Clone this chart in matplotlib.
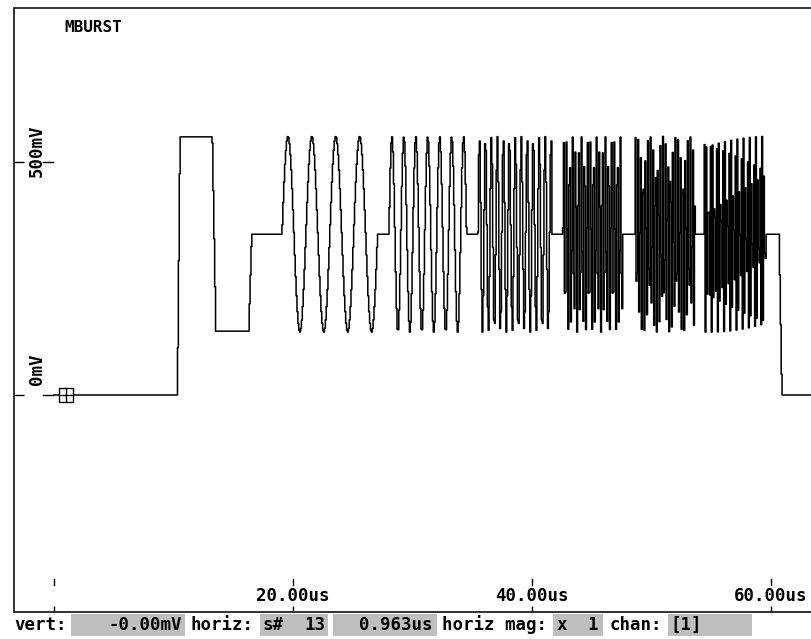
import numpy as np
import matplotlib
matplotlib.use('Agg')
import matplotlib.pyplot as plt
from matplotlib.transforms import blended_transform_factory
from matplotlib.patches import Rectangle

# ---------------- data ----------------
sample_rate_mhz = 13.5          # s# 13 at 0.963us -> 13.5 MS/s
trace_end_us = 63.5
pedestal_t_us = [0.0, 10.33, 10.55, 13.25, 13.55, 16.30, 16.55, 60.68, 60.92, 63.5]
pedestal_mv = [0, 0, 554, 554, 137, 137, 345, 345, 0, 0]
burst_start_us = [19.08, 28.03, 35.48, 42.59, 48.62, 54.39]
burst_end_us = [27.11, 34.56, 41.67, 47.61, 53.64, 59.58]
burst_freq_mhz = [0.5, 1.0, 2.0, 4.0, 4.8, 5.8]
burst_amp_mv = [210, 210, 210, 210, 210, 210]

x_ticks_us = [0, 20, 40, 60]
x_tick_labels = ['', '20.00us', '40.00us', '60.00us']
y_ticks_mv = [0, 500]
y_tick_labels = ['0mV', '500mV']
cursor_t_us = 0.963
cursor_v_mv = 0.0
title_text = 'MBURST'

status_labels = ['vert:', 'horiz:', 'horiz mag:', 'chan:']
status_values = ['-0.00mV', 's#', '13', '0.963us', 'x', '1', '[1]']

# ---------------- build the sampled trace ----------------
t = np.arange(0, trace_end_us, 1.0 / sample_rate_mhz)
v = np.interp(t, pedestal_t_us, pedestal_mv)
for s, e, f, a in zip(burst_start_us, burst_end_us, burst_freq_mhz, burst_amp_mv):
    m = (t >= s) & (t < e)
    v[m] += a * np.sin(2 * np.pi * f * (t[m] - s))

# ---------------- figure ----------------
W, H = 812, 639
fig = plt.figure(figsize=(W / 100, H / 100), dpi=100)
fig.patch.set_facecolor('white')

ax_l, ax_r, ax_t, ax_b = 14.5, 812, 8, 612
ax = fig.add_axes([ax_l / W, 1 - ax_b / H, (ax_r - ax_l) / W, (ax_b - ax_t) / H])

# pixel -> data mapping (0us at px 54, 11.95 px/us ; 0mV at px 395, 233 px / 500mV)
def px2t(px):
    return (px - 54) / 11.95

def py2v(py):
    return (395 - py) / 233 * 500

ax.set_xlim(px2t(ax_l), px2t(ax_r))
ax.set_ylim(py2v(ax_b), py2v(ax_t))

ax.plot(t, v, color='black', lw=1.1, drawstyle='steps-mid', zorder=3)

# cursor marker
ax.plot([cursor_t_us], [cursor_v_mv], marker='s', ms=9.5, mfc='white', mec='black',
        mew=1.0, ls='none', zorder=5)
ax.plot([cursor_t_us], [cursor_v_mv], marker='+', ms=9.5, mec='black',
        mew=1.0, ls='none', zorder=6)

ax.spines['right'].set_visible(False)
for sp in ['left', 'top', 'bottom']:
    ax.spines[sp].set_linewidth(1.3)
    ax.spines[sp].set_color('#222222')

mono = dict(family='DejaVu Sans Mono', fontweight='bold')

ax.set_xticks(x_ticks_us)
ax.set_xticklabels([])
ax.set_yticks(y_ticks_mv)
ax.set_yticklabels([])
ax.tick_params(axis='x', direction='in', length=4.5, width=1.0, color='black')
ax.tick_params(axis='y', direction='in', length=7.5, width=1.0, color='black')

# extra x tick marks above labels and the labels
tx = blended_transform_factory(ax.transData, ax.transAxes)
for xv, lab in zip(x_ticks_us, x_tick_labels):
    ax.plot([xv, xv], [(ax_b - 585) / (ax_b - ax_t), (ax_b - 579) / (ax_b - ax_t)],
            transform=tx, color='black', lw=1.0, clip_on=False)
    if lab:
        ax.text(xv, (ax_b - 596) / (ax_b - ax_t), lab, transform=tx, ha='center',
                va='center', fontsize=12.5, color='black', **mono)

# extra y tick marks right of labels and rotated labels
ty = blended_transform_factory(ax.transAxes, ax.transData)
ylab_centers_px = {0: 369, 500: 151}
for yv, lab in zip(y_ticks_mv, y_tick_labels):
    ax.plot([(43 - ax_l) / (ax_r - ax_l), (53 - ax_l) / (ax_r - ax_l)], [yv, yv],
            transform=ty, color='black', lw=1.0)
    ax.text((37 - ax_l) / (ax_r - ax_l), py2v(ylab_centers_px[yv]), lab, transform=ty,
            rotation=90, ha='center', va='center', fontsize=12.5, color='black', **mono)

# title
fig.text(64 / W, 1 - 27 / H, title_text, ha='left', va='center', fontsize=11.5,
         color='black', **mono)

# ---------------- status bar ----------------
box_px = [(71, 185), (260, 328), (333, 437), (553, 603), (668, 752)]
for x0, x1 in box_px:
    fig.add_artist(Rectangle((x0 / W, 1 - 636 / H), (x1 - x0) / W, 22 / H,
                             transform=fig.transFigure, facecolor='#bfbfbf',
                             edgecolor='none', zorder=1))

yc = 1 - 625 / H
fs = 12.5
fig.text(14 / W, yc, status_labels[0], ha='left', va='center', fontsize=fs, zorder=3, **mono)
fig.text(182 / W, yc, status_values[0], ha='right', va='center', fontsize=fs, zorder=3, **mono)
fig.text(191 / W, yc, status_labels[1], ha='left', va='center', fontsize=fs, zorder=3, **mono)
fig.text(263 / W, yc, status_values[1], ha='left', va='center', fontsize=fs, zorder=3, **mono)
fig.text(325 / W, yc, status_values[2], ha='right', va='center', fontsize=fs, zorder=3, **mono)
fig.text(433 / W, yc, status_values[3], ha='right', va='center', fontsize=fs, zorder=3, **mono)
fig.text(442 / W, yc, status_labels[2], ha='left', va='center', fontsize=fs, zorder=3, **mono)
fig.text(557 / W, yc, status_values[4], ha='left', va='center', fontsize=fs, zorder=3, **mono)
fig.text(598 / W, yc, status_values[5], ha='right', va='center', fontsize=fs, zorder=3, **mono)
fig.text(610 / W, yc, status_labels[3], ha='left', va='center', fontsize=fs, zorder=3, **mono)
fig.text(670 / W, yc, status_values[6], ha='left', va='center', fontsize=fs, zorder=3, **mono)

fig.savefig('out.png', dpi=100, facecolor='white')
